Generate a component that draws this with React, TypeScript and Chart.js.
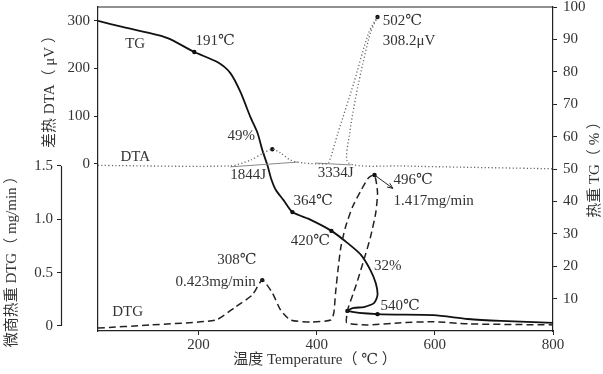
import React, { useEffect, useRef } from "react";
import { Chart, registerables } from "chart.js";
Chart.register(...registerables);

// ---------- data ----------
// TG (%), right axis
const tgTemp = [30, 73, 130, 152, 193, 232, 254, 271, 288, 300, 308, 317, 323, 331, 344, 359, 390, 425, 452, 475, 491, 500, 503, 497, 480, 463, 452, 503, 598, 656, 712, 800];
const tgVal = [95.7, 93.8, 91.4, 90.1, 86.1, 83.0, 79.6, 73.8, 66.0, 61.1, 55.9, 51.0, 47.0, 43.5, 40.4, 36.7, 34.3, 30.9, 27.2, 23.5, 18.8, 14.8, 11.1, 8.6, 7.4, 7.1, 6.2, 5.2, 4.9, 3.7, 3.1, 2.5];

// DTA (μV), upper left axis
const dtaTemp = [30, 254, 288, 310, 325, 339, 356, 378, 412, 420, 436, 463, 488, 503, 491, 471, 456, 454, 542, 800];
const dtaVal = [-3, -4, 8, 23, 31, 23, 8, 2, 0, 2, 65, 170, 275, 308, 275, 170, 65, 2, -4, -10];

// DTA integration baselines
const base1Temp = [254, 368];
const base1Val = [-6, 4];
const base2Temp = [398, 458];
const base2Val = [2, -2];

// DTG (mg/min), lower left axis
const dtgTemp = [30, 119, 229, 263, 291, 308, 325, 339, 356, 390, 424, 429, 432, 436, 441, 449, 461, 475, 488, 498, 503, 500, 491, 480, 466, 454, 452, 451, 486, 542, 598, 656, 800];
const dtgVal = [-0.02, 0.01, 0.056, 0.18, 0.29, 0.43, 0.31, 0.15, 0.056, 0.037, 0.056, 0.12, 0.31, 0.52, 0.74, 0.93, 1.12, 1.27, 1.39, 1.415, 1.25, 1.06, 0.83, 0.62, 0.37, 0.18, 0.13, 0.03, 0.01, 0.03, 0.04, 0.02, 0.01];

// marked points
const tgDotTemp = [193, 359, 425, 452, 503];
const tgDotVal = [86.1, 36.7, 30.9, 6.2, 5.2];
const dtaDotTemp = [325, 503];
const dtaDotVal = [31, 308];
const dtgDotTemp = [308, 498];
const dtgDotVal = [0.43, 1.415];

// arrow (DTG axis units)
const arrowTemp = [498, 529];
const arrowVal = [1.415, 1.29];

// tick values
const xTicks = [200, 400, 600, 800];
const dtaTicks = [0, 100, 200, 300];
const dtgTicks = [0, 0.5, 1.0, 1.5];
const tgTicks = [10, 20, 30, 40, 50, 60, 70, 80, 90, 100];

// annotations (temperature, TG-axis value)
const annText = ["TG", "191℃", "49%", "DTA", "1844J", "3334J", "502℃", "308.2μV", "496℃", "1.417mg/min", "364℃", "420℃", "32%", "308℃", "0.423mg/min", "540℃", "DTG"];
const annTemp = [76, 195, 249, 68, 254, 402, 512, 512, 530, 530, 361, 356, 497, 232, 161, 508, 54];
const annTg = [88.6, 89.5, 60.2, 53.7, 48.1, 48.8, 95.7, 89.5, 46.6, 40.1, 40.1, 27.8, 20.1, 21.9, 15.1, 7.7, 5.9];

const FONT = '"Liberation Serif", "DejaVu Serif", "Noto Sans CJK SC", serif';
const INK = "#222";
const TEXT = "#333";

const pts = (xs: number[], ys: number[]) => xs.map((x, i) => ({ x, y: ys[i] }));
const setTicks = (vals: number[]) => (s: any) => {
  s.ticks = vals.map((v) => ({ value: v }));
};
const fixW = (w: number) => (s: any) => {
  s.width = w;
  s.paddingTop = 0;
  s.paddingBottom = 0;
};

export default function App() {
  const ref = useRef<HTMLCanvasElement>(null);

  useEffect(() => {
    const canvas = ref.current!;
    const decor = {
      id: "decor",
      afterDraw(chart: any) {
        const c = chart.ctx;
        const { left, right, top } = chart.chartArea;
        const sx = chart.scales.x;
        const sTG = chart.scales.yTG;
        const sDTG = chart.scales.yDTG;
        c.save();
        c.strokeStyle = INK;
        c.lineWidth = 1.2;
        // top frame
        c.beginPath();
        c.moveTo(left, top);
        c.lineTo(right, top);
        c.stroke();
        // partial DTG axis line
        const ax = Math.round(sDTG.right) + 0.5;
        c.beginPath();
        c.moveTo(ax, sDTG.getPixelForValue(0));
        c.lineTo(ax, sDTG.getPixelForValue(1.5));
        c.stroke();
        // arrow
        const x0 = sx.getPixelForValue(arrowTemp[0]);
        const y0 = sDTG.getPixelForValue(arrowVal[0]);
        const x1 = sx.getPixelForValue(arrowTemp[1]);
        const y1 = sDTG.getPixelForValue(arrowVal[1]);
        c.lineWidth = 1;
        c.beginPath();
        c.moveTo(x0, y0);
        c.lineTo(x1, y1);
        c.stroke();
        const ang = Math.atan2(y1 - y0, x1 - x0);
        c.beginPath();
        c.moveTo(x1, y1);
        c.lineTo(x1 - 6 * Math.cos(ang - 0.4), y1 - 6 * Math.sin(ang - 0.4));
        c.moveTo(x1, y1);
        c.lineTo(x1 - 6 * Math.cos(ang + 0.4), y1 - 6 * Math.sin(ang + 0.4));
        c.stroke();
        // annotations
        c.fillStyle = TEXT;
        c.font = `15px ${FONT}`;
        c.textBaseline = "middle";
        c.textAlign = "left";
        annText.forEach((t, i) => {
          c.fillText(t, sx.getPixelForValue(annTemp[i]), sTG.getPixelForValue(annTg[i]));
        });
        // axis titles
        c.textAlign = "center";
        const rot = (t: string, x: number, y: number) => {
          c.save();
          c.translate(x, y);
          c.rotate(-Math.PI / 2);
          c.fillText(t, 0, 0);
          c.restore();
        };
        rot("差热 DTA（ μV ）", 50, 88);
        rot("微商热重 DTG（ mg/min ）", 12, 258);
        rot("热重 TG（ % ）", 595, 166);
        c.fillText("温度 Temperature（ ℃ ）", 315, 360);
        c.restore();
      },
    };

    const tickFont = { family: FONT, size: 15, lineHeight: 1 };
    const grid = { drawOnChartArea: false, drawTicks: true, tickLength: 4, color: INK, lineWidth: 1 };
    const border = { display: true, color: INK, width: 1.2 };

    const chart = new Chart(canvas, {
      type: "scatter",
      data: {
        datasets: [
          {
            label: "DTA",
            data: pts(dtaTemp, dtaVal),
            yAxisID: "yDTA",
            showLine: true,
            borderColor: "#666",
            borderWidth: 1.3,
            borderDash: [1.2, 2.3],
            pointRadius: 0,
            tension: 0.25,
          },
          {
            label: "base1",
            data: pts(base1Temp, base1Val),
            yAxisID: "yDTA",
            showLine: true,
            borderColor: "#888",
            borderWidth: 1,
            pointRadius: 0,
          },
          {
            label: "base2",
            data: pts(base2Temp, base2Val),
            yAxisID: "yDTA",
            showLine: true,
            borderColor: "#888",
            borderWidth: 1,
            pointRadius: 0,
          },
          {
            label: "DTG",
            data: pts(dtgTemp, dtgVal),
            yAxisID: "yDTG",
            showLine: true,
            borderColor: INK,
            borderWidth: 1.5,
            borderDash: [7, 4],
            pointRadius: 0,
            tension: 0.2,
          },
          {
            label: "TG",
            data: pts(tgTemp, tgVal),
            yAxisID: "yTG",
            showLine: true,
            borderColor: "#111",
            borderWidth: 1.8,
            pointRadius: 0,
            tension: 0.25,
          },
          {
            label: "tgDots",
            data: pts(tgDotTemp, tgDotVal),
            yAxisID: "yTG",
            showLine: false,
            pointRadius: 2.2,
            backgroundColor: "#111",
            borderWidth: 0,
          },
          {
            label: "dtaDots",
            data: pts(dtaDotTemp, dtaDotVal),
            yAxisID: "yDTA",
            showLine: false,
            pointRadius: 2.2,
            backgroundColor: "#111",
            borderWidth: 0,
          },
          {
            label: "dtgDots",
            data: pts(dtgDotTemp, dtgDotVal),
            yAxisID: "yDTG",
            showLine: false,
            pointRadius: 2.2,
            backgroundColor: "#111",
            borderWidth: 0,
          },
        ],
      },
      options: {
        responsive: false,
        animation: false,
        layout: { padding: { left: 0, right: 0, top: 7, bottom: 0 } },
        plugins: { legend: { display: false }, tooltip: { enabled: false } },
        scales: {
          x: {
            type: "linear",
            position: "bottom",
            min: 30,
            max: 800,
            afterBuildTicks: setTicks(xTicks),
            afterFit: (s: any) => {
              s.height = 43;
              s.paddingLeft = 0;
              s.paddingRight = 0;
            },
            ticks: { font: tickFont, color: TEXT, padding: 3, maxRotation: 0, autoSkip: false },
            grid,
            border,
          },
          yDTG: {
            type: "linear",
            position: "left",
            weight: 1,
            min: -0.047,
            max: 2.99,
            afterBuildTicks: setTicks(dtgTicks),
            afterFit: fixW(61),
            ticks: {
              font: tickFont,
              color: TEXT,
              padding: 4,
              autoSkip: false,
              callback: (v: any) => (v === 0 ? "0" : Number(v).toFixed(1)),
            },
            grid,
            border: { display: false },
          },
          yDTA: {
            type: "linear",
            position: "left",
            weight: 0,
            min: -350,
            max: 329,
            afterBuildTicks: setTicks(dtaTicks),
            afterFit: fixW(37),
            ticks: { font: tickFont, color: TEXT, padding: 4, autoSkip: false },
            grid,
            border,
          },
          yTG: {
            type: "linear",
            position: "right",
            min: 0,
            max: 100,
            afterBuildTicks: setTicks(tgTicks),
            afterFit: fixW(50),
            ticks: { font: tickFont, color: TEXT, padding: 6, autoSkip: false },
            grid,
            border,
          },
        },
      },
      plugins: [decor],
    } as any);
    return () => chart.destroy();
  }, []);

  return (
    <div style={{ position: "fixed", left: 0, top: 0, width: 603, height: 374, background: "#fff" }}>
      <canvas ref={ref} width={603} height={374} style={{ display: "block" }} />
    </div>
  );
}
